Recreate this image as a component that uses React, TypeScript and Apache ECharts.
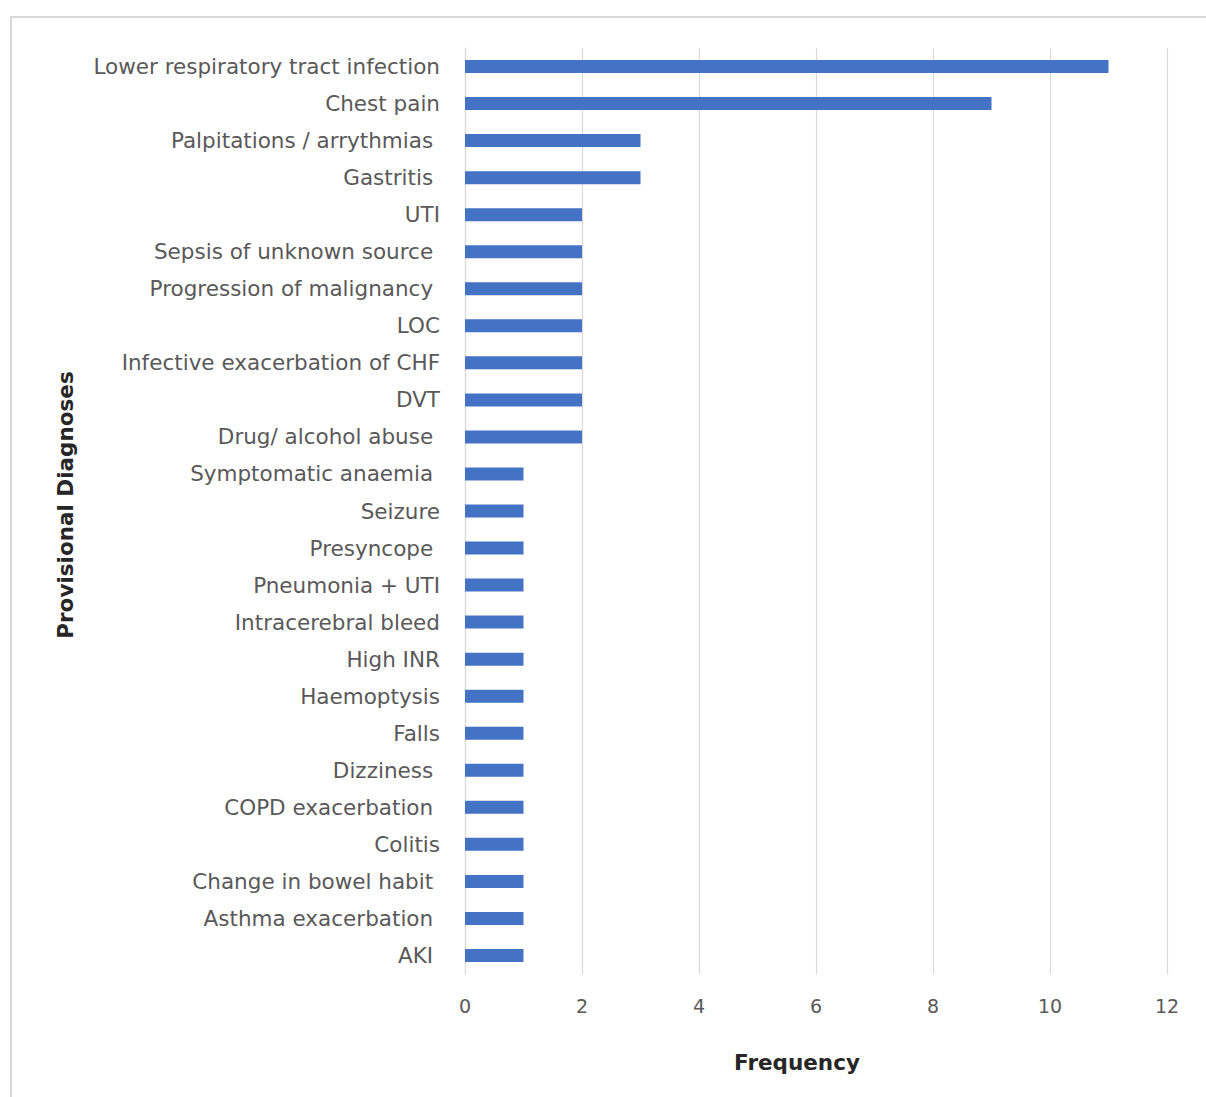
import React, { useEffect, useRef } from "react";
import * as echarts from "echarts";

// Provisional diagnoses, listed top to bottom
const diagnoses = [
  "Lower respiratory tract infection",
  "Chest pain",
  "Palpitations / arrythmias ",
  "Gastritis ",
  "UTI",
  "Sepsis of unknown source ",
  "Progression of malignancy ",
  "LOC",
  "Infective exacerbation of CHF",
  "DVT",
  "Drug/ alcohol abuse ",
  "Symptomatic anaemia ",
  "Seizure",
  "Presyncope ",
  "Pneumonia + UTI",
  "Intracerebral bleed",
  "High INR",
  "Haemoptysis",
  "Falls",
  "Dizziness ",
  "COPD exacerbation ",
  "Colitis",
  "Change in bowel habit ",
  "Asthma exacerbation ",
  "AKI ",
];

const frequency = [11, 9, 3, 3, 2, 2, 2, 2, 2, 2, 2, 1, 1, 1, 1, 1, 1, 1, 1, 1, 1, 1, 1, 1, 1];

const FONT = "'DejaVu Sans', 'Open Sans', sans-serif";
const GREY_TEXT = "#595959";
const GRID_LINE = "#d9d9d9";

export default function App() {
  const ref = useRef<HTMLDivElement>(null);

  useEffect(() => {
    if (!ref.current) return;
    const chart = echarts.init(ref.current, null, { renderer: "svg" });
    chart.setOption({
      animation: false,
      backgroundColor: "#ffffff",
      textStyle: { fontFamily: FONT },
      graphic: [
        {
          type: "rect",
          shape: { x: 11, y: 17, width: 1400, height: 1300 },
          style: { fill: "none", stroke: GRID_LINE, lineWidth: 2 },
          silent: true,
        },
      ],
      grid: { left: 465, right: 39, top: 48, bottom: 123 },
      xAxis: {
        type: "value",
        min: 0,
        max: 12,
        interval: 2,
        name: "Frequency",
        nameLocation: "middle",
        nameGap: 88,
        nameTextStyle: {
          fontFamily: FONT,
          fontSize: 21.5,
          fontWeight: "bold",
          color: "#262626",
          verticalAlign: "middle",
          padding: [0, 38, 0, 0],
        },
        axisLine: { show: false },
        axisTick: { show: false },
        axisLabel: { fontSize: 19, color: GREY_TEXT, margin: 22, fontFamily: FONT },
        splitLine: { show: true, lineStyle: { color: GRID_LINE, width: 1.2 } },
      },
      yAxis: {
        type: "category",
        data: diagnoses,
        inverse: true,
        name: "Provisional Diagnoses",
        nameLocation: "middle",
        nameRotate: 90,
        nameGap: 400,
        nameTextStyle: {
          fontFamily: FONT,
          fontSize: 21.5,
          fontWeight: "bold",
          color: "#262626",
          verticalAlign: "middle",
          padding: [0, 0, 0, 12],
        },
        axisLine: { show: true, lineStyle: { color: GRID_LINE, width: 1.2 } },
        axisTick: { show: false },
        axisLabel: { fontSize: 21.5, color: GREY_TEXT, margin: 25, fontFamily: FONT },
      },
      series: [
        {
          type: "bar",
          data: frequency,
          barWidth: 13,
          itemStyle: { color: "#4472C4" },
        },
      ],
    });
    return () => chart.dispose();
  }, []);

  return (
    <div
      ref={ref}
      style={{ position: "fixed", left: 0, top: 0, width: 1206, height: 1097, background: "#fff" }}
    />
  );
}
